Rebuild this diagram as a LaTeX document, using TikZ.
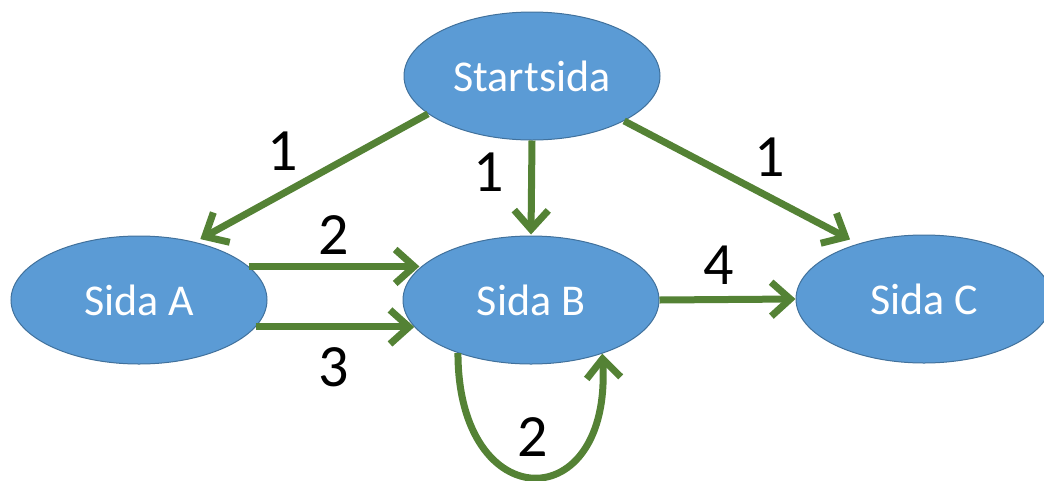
\documentclass[tikz,border=0pt]{standalone}
\usepackage{fontspec}
\setmainfont{Carlito}
\usetikzlibrary{arrows.meta,shapes.geometric,calc}
\definecolor{nodefill}{HTML}{5B9BD5}
\definecolor{nodeline}{HTML}{41719C}
\definecolor{edgegreen}{HTML}{548235}
\tikzset{
  page/.style={ellipse, fill=nodefill, draw=nodeline, line width=1pt,
    minimum width=256pt, minimum height=128pt, inner sep=0pt,
    text=white, font=\fontsize{44}{44}\selectfont},
  link/.style={draw=edgegreen, line width=7pt,
    -{Straight Barb[length=19pt,width=34pt]}},
  num/.style={text=black, inner sep=0pt, font=\fontsize{60}{60}\selectfont}
}
\begin{document}
\begin{tikzpicture}[x=1pt,y=-1pt]
\useasboundingbox (0,0) rectangle (1044,480);
\node[page] (S) at (532,76) {Startsida};
\node[page] (A) at (139,300) {Sida A};
\node[page] (B) at (531,300) {Sida B};
\node[page] (C) at (924,299) {Sida C};

\draw[link, shorten >=6pt] (S.200) -- (A.46);
\draw[link, shorten >=1pt] (S.south) -- (B.north);
\draw[link, shorten >=9pt] (S.-26) -- (C.140);
\draw[link] (A.17) -- (B.164 |- A.17);
\draw[link] (A.-13) -- (B.193 |- A.-13);
\draw[link] (B.east) -- (C.west);
\draw[link] (B.216) .. controls +(0,165) and +(10,165) .. (B.-37);

\node[num] (l1) at (283,151) {1};
\node[num] (l2) at (489,172) {1};
\node[num] (l3) at (770,157) {1};
\node[num] (l4) at (334,235) {2};
\node[num] (l5) at (334,367) {3};
\node[num] (l6) at (719,265) {4};
\node[num] (l7) at (533,437) {2};
\end{tikzpicture}
\end{document}
